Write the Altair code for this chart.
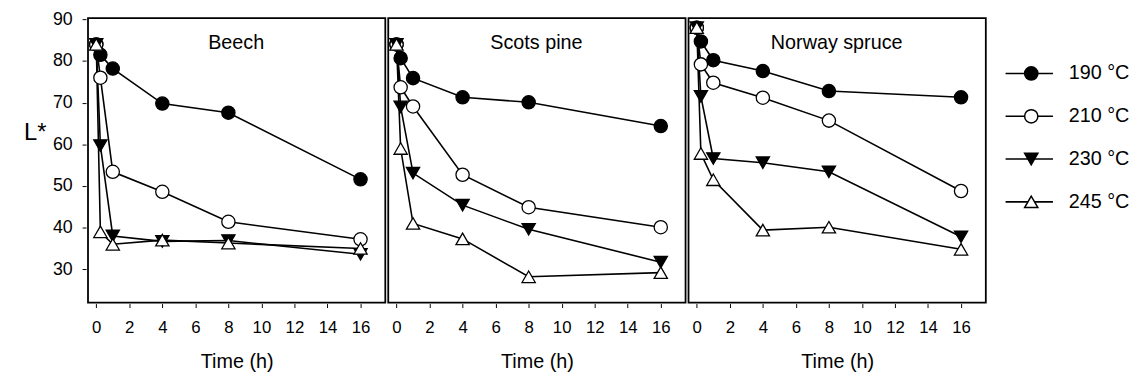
import altair as alt
import pandas as pd

woods = ["Beech", "Scots pine", "Norway spruce"]
temps = ["190 °C", "210 °C", "230 °C", "245 °C"]
times = [0, 0.25, 1, 4, 8, 16]

beech_190 = [84, 81.5, 78.2, 69.8, 67.6, 51.6]
beech_210 = [84, 76.0, 53.4, 48.6, 41.4, 37.2]
beech_230 = [84, 59.7, 38.0, 36.7, 36.9, 33.6]
beech_245 = [84, 39.0, 36.0, 37.0, 36.3, 35.0]

pine_190 = [84, 80.7, 75.9, 71.3, 70.1, 64.4]
pine_210 = [84, 73.7, 69.1, 52.7, 44.9, 40.1]
pine_230 = [84, 69.0, 53.1, 45.4, 39.6, 31.7]
pine_245 = [84, 59.0, 41.0, 37.3, 28.2, 29.2]

spruce_190 = [88, 84.7, 80.2, 77.6, 72.8, 71.3]
spruce_210 = [88, 79.2, 74.8, 71.2, 65.7, 48.8]
spruce_230 = [88, 71.5, 56.6, 55.6, 53.4, 37.8]
spruce_245 = [88, 57.8, 51.5, 39.4, 40.1, 34.8]

series = {
    "Beech": [beech_190, beech_210, beech_230, beech_245],
    "Scots pine": [pine_190, pine_210, pine_230, pine_245],
    "Norway spruce": [spruce_190, spruce_210, spruce_230, spruce_245],
}

rows = []
for w in woods:
    for t, vals in zip(temps, series[w]):
        for h, v in zip(times, vals):
            rows.append({"wood": w, "temp": t, "time": h, "L": v})
df = pd.DataFrame(rows)

FONT = "Liberation Sans"
shape_scale = alt.Scale(domain=temps, range=["circle", "circle", "triangle-down", "triangle-up"])
fill_scale = alt.Scale(domain=temps, range=["black", "white", "black", "white"])
size_scale = alt.Scale(domain=temps, range=[180, 180, 200, 200])

x_enc = alt.X(
    "time:Q",
    scale=alt.Scale(domain=[-0.5, 17.5], nice=False, zero=False),
    axis=alt.Axis(values=list(range(0, 17, 2)), title="Time (h)", grid=False, domain=False,
                  tickSize=4, tickColor="black", labelColor="black", labelFontSize=17,
                  labelPadding=12, labelOverlap=False, titleFontSize=20, titleFontWeight="normal",
                  titlePadding=17, titleColor="black"),
)
y_enc = alt.Y(
    "L:Q",
    scale=alt.Scale(domain=[22, 90.3], nice=False, zero=False),
    axis=alt.Axis(values=[30, 40, 50, 60, 70, 80, 90], title="L*", titleAngle=0, titleX=-52,
                  titleY=116, titleAlign="center", titleBaseline="middle", grid=False,
                  domain=False, tickSize=4, tickColor="black", labelColor="black",
                  labelFontSize=18, labelPadding=10, titleFontSize=24, titleFontWeight="normal",
                  titleColor="black"),
)

base = alt.Chart(df)
lines = base.mark_line(color="black", strokeWidth=1.6).encode(
    x=x_enc, y=y_enc, detail="temp:N", order="time:Q"
)
points = base.mark_point(filled=True, stroke="black", strokeWidth=1.3, opacity=1).encode(
    x=x_enc, y=y_enc,
    shape=alt.Shape("temp:N", scale=shape_scale, legend=None),
    fill=alt.Fill("temp:N", scale=fill_scale, legend=None),
    size=alt.Size("temp:N", scale=size_scale, legend=None),
)
labels = base.mark_text(fontSize=20, font=FONT, color="black").encode(
    text="wood:N", x=alt.value(150), y=alt.value(25)
).transform_filter((alt.datum.time == 0) & (alt.datum.temp == temps[0]))

panels = alt.layer(lines, points, labels).properties(width=301, height=288).facet(
    column=alt.Column("wood:N", sort=woods, header=alt.Header(title=None, labels=False)),
    spacing=0,
)

leg_df = pd.DataFrame({"temp": temps})
leg_y = alt.Y("temp:N", sort=temps, scale=alt.Scale(type="point", range=[56, 186], padding=0), axis=None)
leg_base = alt.Chart(leg_df)
leg_rule = leg_base.mark_rule(color="black", strokeWidth=1.6).encode(
    x=alt.value(8), x2=alt.value(56), y=leg_y
)
leg_pts = leg_base.mark_point(filled=True, stroke="black", strokeWidth=1.5, opacity=1).encode(
    x=alt.value(34), y=leg_y,
    shape=alt.Shape("temp:N", scale=shape_scale, legend=None),
    fill=alt.Fill("temp:N", scale=fill_scale, legend=None),
    size=alt.Size("temp:N", scale=alt.Scale(domain=temps, range=[600, 600, 520, 520]), legend=None),
)
leg_txt = leg_base.mark_text(align="left", baseline="middle", fontSize=20, font=FONT, color="black").encode(
    x=alt.value(72), y=leg_y, text="temp:N"
)
legend = alt.layer(leg_rule, leg_pts, leg_txt).properties(
    width=125, height=288, view=alt.ViewBackground(stroke="transparent")
)

chart = alt.hconcat(panels, legend, spacing=10).properties(
    padding={"left": 15, "top": 0, "right": 0, "bottom": 0}
).configure(font=FONT).configure_view(stroke="black", strokeWidth=1.8)

chart.save("out.html", embed_options={"renderer": "svg", "actions": False})
